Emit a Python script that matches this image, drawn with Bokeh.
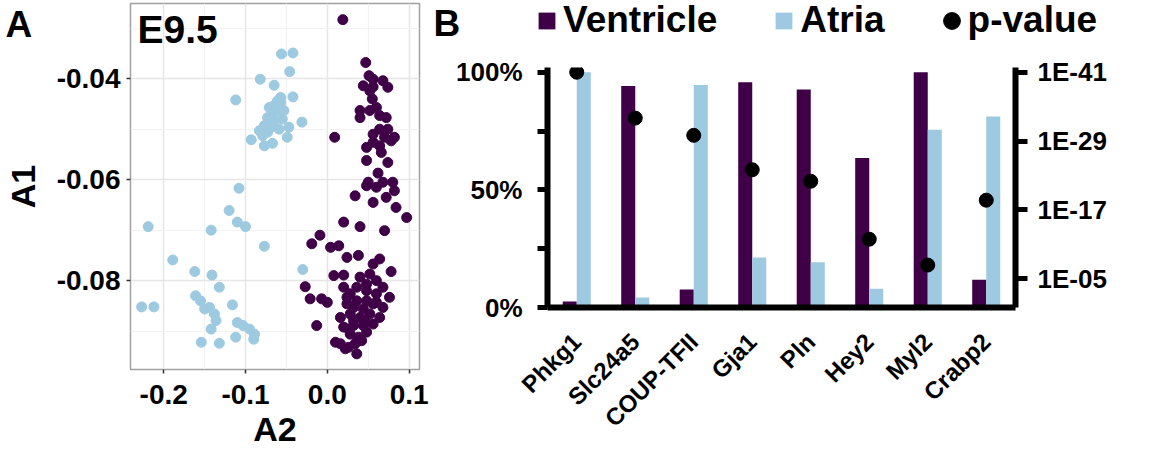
import math
import numpy as np
from bokeh.plotting import figure
from bokeh.models import (ColumnDataSource, FactorRange, Range1d, LinearAxis, FixedTicker,
                          NumeralTickFormatter, Label, Legend, LegendItem)
from bokeh.transform import dodge
from bokeh.embed import file_html
from bokeh.resources import INLINE

FONT = "Liberation Sans"
PURPLE = "#3f0047"
BLUE = "#9ecae1"

# ---------------- Panel A data (A2 = x, A1 = y) ----------------
atria_a2 = [-0.056, -0.042, -0.046, -0.082, -0.065, -0.112, -0.042, -0.057, -0.061, -0.065,
            -0.071, -0.057, -0.061, -0.067, -0.073, -0.065, -0.055, -0.069, -0.077, -0.083,
            -0.073, -0.059, -0.047, -0.049, -0.031, -0.053, -0.093, -0.077, -0.067, -0.079,
            -0.108, -0.120, -0.110, -0.100, -0.142, -0.219, -0.077, -0.189, -0.162, -0.141,
            -0.132, -0.161, -0.155, -0.150, -0.144, -0.116, -0.138, -0.136, -0.227, -0.212,
            -0.142, -0.110, -0.103, -0.095, -0.089, -0.090, -0.112, -0.154, -0.132, -0.030]
atria_a1 = [-0.0351, -0.0349, -0.0386, -0.0401, -0.0413, -0.0442, -0.0436, -0.0437, -0.0444, -0.0453,
            -0.0457, -0.0447, -0.0463, -0.0470, -0.0477, -0.0483, -0.0480, -0.0496, -0.0493, -0.0503,
            -0.0506, -0.0500, -0.0496, -0.0516, -0.0486, -0.0463, -0.0521, -0.0533, -0.0528, -0.0513,
            -0.0617, -0.0661, -0.0684, -0.0693, -0.0700, -0.0693, -0.0732, -0.0759, -0.0782, -0.0789,
            -0.0813, -0.0830, -0.0840, -0.0856, -0.0853, -0.0848, -0.0866, -0.0879, -0.0852, -0.0852,
            -0.0896, -0.0883, -0.0889, -0.0896, -0.0906, -0.0916, -0.0912, -0.0922, -0.0924, -0.0778]

vent_a2 = [0.019, 0.047, 0.051, 0.056, 0.044, 0.056, 0.068, 0.074, 0.052, 0.055,
           0.052, 0.060, 0.064, 0.040, 0.040, 0.072, 0.074, 0.056, 0.064, 0.070,
           0.056, 0.064, 0.078, 0.082, 0.048, 0.066, 0.048, 0.074, 0.062, 0.050,
           0.048, 0.060, 0.068, 0.080, 0.082, 0.072, 0.056, 0.034, 0.084, 0.097,
           0.020, 0.040, 0.070, 0.009, -0.009, -0.019, 0.004, 0.014, 0.024, 0.038,
           0.064, 0.056, 0.008, 0.020, 0.040, 0.052, 0.078, -0.027, -0.021, -0.007,
           0.000, 0.020, 0.028, 0.036, 0.048, 0.060, 0.076, 0.060, 0.024, 0.036,
           0.048, 0.016, 0.028, 0.040, 0.052, 0.064, 0.020, 0.032, 0.044, 0.056,
           0.028, 0.038, 0.048, -0.013, 0.016, 0.026, 0.036, 0.010, 0.042, 0.022,
           0.032, 0.044, 0.056, 0.032, 0.046, 0.024, 0.068, 0.048, 0.060, 0.068,
           0.034, 0.026]
vent_a1 = [-0.0283, -0.0368, -0.0394, -0.0401, -0.0414, -0.0416, -0.0404, -0.0417, -0.0424, -0.0440,
           -0.0463, -0.0457, -0.0473, -0.0463, -0.0477, -0.0477, -0.0500, -0.0510, -0.0500, -0.0516,
           -0.0526, -0.0533, -0.0523, -0.0516, -0.0536, -0.0546, -0.0562, -0.0566, -0.0587, -0.0605,
           -0.0612, -0.0615, -0.0605, -0.0605, -0.0622, -0.0635, -0.0645, -0.0632, -0.0655, -0.0675,
           -0.0684, -0.0693, -0.0701, -0.0516, -0.0710, -0.0727, -0.0734, -0.0731, -0.0754, -0.0750,
           -0.0757, -0.0767, -0.0790, -0.0789, -0.0793, -0.0787, -0.0782, -0.0812, -0.0836, -0.0836,
           -0.0843, -0.0813, -0.0826, -0.0813, -0.0807, -0.0800, -0.0833, -0.0826, -0.0846, -0.0840,
           -0.0840, -0.0873, -0.0866, -0.0873, -0.0866, -0.0873, -0.0892, -0.0889, -0.0889, -0.0886,
           -0.0906, -0.0912, -0.0902, -0.0889, -0.0925, -0.0932, -0.0945, -0.0922, -0.0919, -0.0935,
           -0.0853, -0.0856, -0.0846, -0.0879, -0.0879, -0.0833, -0.0813, -0.0820, -0.0843, -0.0853,
           -0.0925, -0.0896]

a_x_ticks = [-0.2, -0.1, 0.0, 0.1]
a_x_minor = [-0.15, -0.05, 0.05]
a_y_ticks = [-0.08, -0.06, -0.04]
a_y_minor = [-0.09, -0.07, -0.05, -0.03]

# ---------------- Panel B data ----------------
genes = ["Phkg1", "Slc24a5", "COUP-TFII", "Gja1", "Pln", "Hey2", "Myl2", "Crabp2"]
ventricle_pct = [2.6, 94.1, 7.7, 95.7, 92.7, 63.5, 100.0, 11.8]
atria_pct = [100.0, 4.3, 94.6, 21.2, 19.2, 8.0, 75.5, 81.2]
neg_log10_p = [41.0, 33.0, 30.0, 24.0, 22.0, 11.9, 7.4, 18.7]

pct_ticks = [0, 25, 50, 75, 100]
pct_labels = {0: "0%", 25: "", 50: "50%", 75: "", 100: "100%"}
p_ticks = [5, 17, 29, 41]
p_labels = {5: "1E-05", 17: "1E-17", 29: "1E-29", 41: "1E-41"}
legend_labels = ["Ventricle", "Atria", "p-value"]


def placed(left, top):
    return {"position": "absolute", "left": f"{left}px", "top": f"{top}px"}


# ================= Panel A =================
pA = figure(width=430, height=450, title=None,
            x_range=Range1d(-0.2406, 0.1127), y_range=Range1d(-0.0976, -0.0251),
            output_backend="svg", toolbar_location=None,
            min_border_left=128, min_border_right=11, min_border_top=3, min_border_bottom=81,
            styles=placed(0, 0))
pA.background_fill_color = "white"
pA.border_fill_color = "white"
pA.outline_line_color = "#a0a0a0"
pA.outline_line_width = 1.5

pA.xaxis.ticker = FixedTicker(ticks=a_x_ticks, minor_ticks=a_x_minor)
pA.yaxis.ticker = FixedTicker(ticks=a_y_ticks, minor_ticks=a_y_minor)
pA.xaxis.formatter = NumeralTickFormatter(format="0.0")
pA.yaxis.formatter = NumeralTickFormatter(format="0.00")
for ax in (pA.xaxis[0], pA.yaxis[0]):
    ax.axis_line_color = None
    ax.major_tick_line_color = "#333333"
    ax.major_tick_line_width = 1.5
    ax.major_tick_out = 4
    ax.major_tick_in = 0
    ax.minor_tick_line_color = None
    ax.major_label_text_font = FONT
    ax.major_label_text_font_style = "bold"
    ax.major_label_text_font_size = "28px"
    ax.major_label_text_color = "black"
    ax.axis_label_text_font = FONT
    ax.axis_label_text_font_style = "bold"
    ax.axis_label_text_color = "black"
    ax.axis_label_text_font_size = "34px"
pA.xaxis.axis_label = "A2"
pA.yaxis.axis_label = "A1"
pA.xaxis.major_label_standoff = 11
pA.xaxis.axis_label_standoff = 3
pA.yaxis.major_label_standoff = 6
pA.yaxis.axis_label_standoff = 12

for g in (pA.xgrid[0], pA.ygrid[0]):
    g.grid_line_color = "#e6e6e6"
    g.grid_line_width = 1.5
    g.minor_grid_line_color = "#f2f2f2"
    g.minor_grid_line_width = 1.2

pA.scatter(atria_a2, atria_a1, size=10, color=BLUE, line_color=BLUE)
pA.scatter(vent_a2, vent_a1, size=10, color=PURPLE, line_color=PURPLE)

pA.add_layout(Label(x=-0.2321, y=-0.03025, text="E9.5", text_font=FONT, text_font_style="bold",
                    text_font_size="39px", text_color="black", text_baseline="middle"))

# ================= Panel B =================
src = ColumnDataSource(dict(gene=genes, ventricle=ventricle_pct, atria=atria_pct, p=neg_log10_p))

pB = figure(width=726, height=450, title=None,
            x_range=FactorRange(factors=genes, range_padding=0), y_range=Range1d(0, 102),
            output_backend="svg", toolbar_location=None,
            min_border_left=117, min_border_right=141, min_border_top=67, min_border_bottom=143,
            styles=placed(430, 0))
pB.extra_y_ranges = {"p": Range1d(0, 41.82)}
pB.outline_line_color = None
pB.xgrid.visible = False
pB.ygrid.visible = False

pB.vbar(x=dodge("gene", -0.12, range=pB.x_range), top="ventricle", width=0.24,
        source=src, color=PURPLE, line_color=None)
pB.vbar(x=dodge("gene", 0.12, range=pB.x_range), top="atria", width=0.24,
        source=src, color=BLUE, line_color=None)
pB.scatter(x="gene", y="p", y_range_name="p", source=src, size=14,
           color="black", line_color="black")

ly = pB.yaxis[0]
ly.ticker = FixedTicker(ticks=pct_ticks)
ly.major_label_overrides = pct_labels
ly.axis_line_width = 6
ly.axis_line_color = "black"
ly.major_tick_line_width = 5
ly.major_tick_out = 10
ly.major_tick_in = 0
ly.minor_tick_line_color = None
ly.major_label_standoff = 15
ly.major_label_text_font = FONT
ly.major_label_text_font_style = "bold"
ly.major_label_text_font_size = "26px"
ly.major_label_text_color = "black"

ry = LinearAxis(y_range_name="p", ticker=FixedTicker(ticks=p_ticks), major_label_overrides=p_labels)
ry.axis_line_width = 6
ry.axis_line_color = "black"
ry.major_tick_line_width = 5
ry.major_tick_out = 12
ry.major_tick_in = 0
ry.minor_tick_line_color = None
ry.major_label_standoff = 10
ry.major_label_text_font = FONT
ry.major_label_text_font_style = "bold"
ry.major_label_text_font_size = "26px"
ry.major_label_text_color = "black"
pB.add_layout(ry, "right")

bx = pB.xaxis[0]
bx.axis_line_width = 6
bx.axis_line_color = "black"
bx.major_tick_line_color = None
bx.minor_tick_line_color = None
bx.major_label_orientation = math.pi / 4
bx.major_label_standoff = 24
bx.major_label_text_font = FONT
bx.major_label_text_font_style = "bold"
bx.major_label_text_font_size = "24px"
bx.major_label_text_color = "black"

# ================= Overlay: panel letters and legend =================
ov = figure(width=1156, height=450, title=None, x_range=Range1d(0, 1156), y_range=Range1d(450, 0),
            output_backend="svg", toolbar_location=None, min_border=0,
            styles=placed(0, 0))
ov.axis.visible = False
ov.grid.visible = False
ov.outline_line_color = None
ov.background_fill_alpha = 0
ov.border_fill_alpha = 0

for letter, lx, ly_ in (("A", 5, 23.5), ("B", 433, 22.5)):
    ov.add_layout(Label(x=lx, y=ly_, text=letter, text_font=FONT, text_font_style="bold",
                        text_font_size="37px", text_color="black", text_baseline="middle"))

# legend-only renderers: a single NaN row, so nothing is drawn in the plot area
legend_src = ColumnDataSource(dict(x=np.array([np.nan]), y=np.array([np.nan]),
                                   top=np.array([np.nan]), d=np.array([1.0])))
lv = ov.vbar(x="x", top="top", width=1, source=legend_src, color=PURPLE, line_color=None)
la = ov.vbar(x="x", top="top", width=1, source=legend_src, color=BLUE, line_color=None)
lp = ov.ellipse(x="x", y="y", width="d", height="d", width_units="screen", height_units="screen",
                source=legend_src, color="black", line_color="black")

legend = Legend(items=[LegendItem(label=legend_labels[0], renderers=[lv]),
                       LegendItem(label=legend_labels[1], renderers=[la]),
                       LegendItem(label=legend_labels[2], renderers=[lp])],
                orientation="horizontal", location=(536, 409),
                glyph_width=21, glyph_height=21, label_standoff=6, spacing=56,
                padding=0, margin=0, border_line_color=None, background_fill_alpha=0,
                label_text_font=FONT, label_text_font_style="bold",
                label_text_font_size="37px", label_text_color="black")
ov.add_layout(legend)

open("out.html", "w").write(file_html([pA, pB, ov], INLINE))
